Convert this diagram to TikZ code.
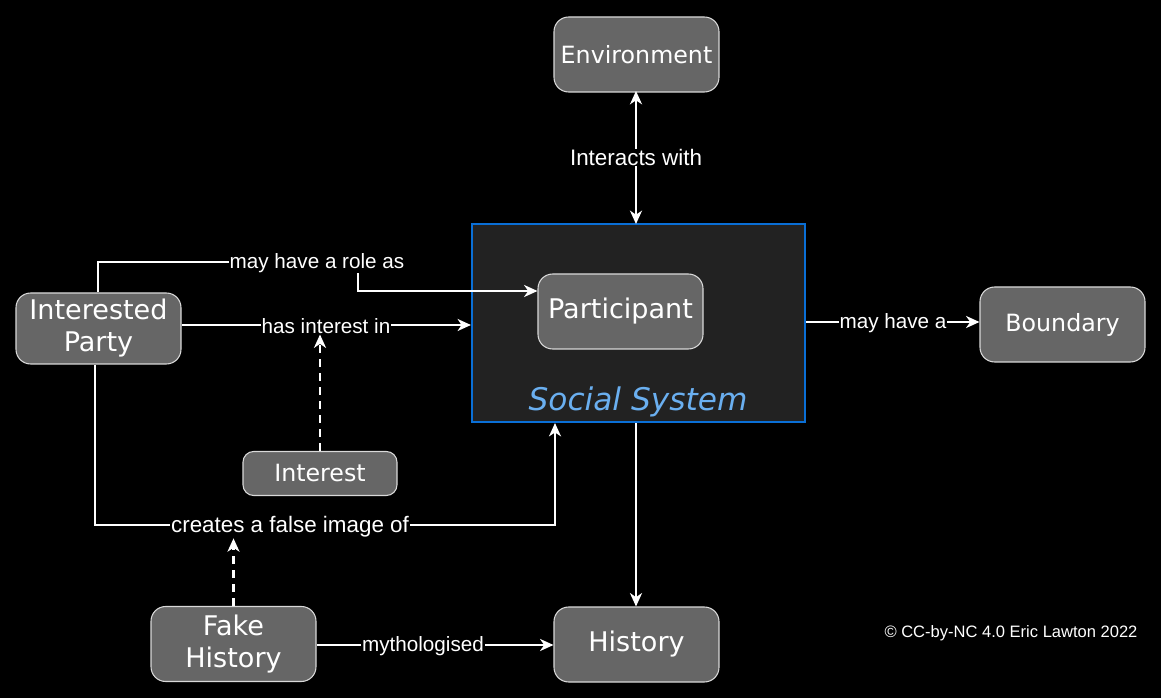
\documentclass[tikz,border=0pt]{standalone}
\usepackage{fontspec}
\setmainfont{Liberation Sans}
\newfontfamily\nodefont{DejaVu Sans}
\usetikzlibrary{arrows.meta}
\definecolor{nodefill}{HTML}{666666}
\definecolor{sysfill}{HTML}{222222}
\definecolor{sysblue}{HTML}{0A6FD6}
\definecolor{systext}{HTML}{6AAFF0}
\tikzset{
  box/.style={draw=white!85!black, line width=0.8pt, fill=nodefill, rounded corners=11pt,
    minimum width=123.75pt, minimum height=56.25pt, align=center, text=white,
    font=\nodefont\fontsize{17.8pt}{24pt}\selectfont, inner sep=0pt},
  bigbox/.style={box, font=\nodefont\fontsize{20.3pt}{24pt}\selectfont},
  lbl/.style={fill=black, text=white, inner sep=0.5pt, font=\fontsize{15.5pt}{18pt}\selectfont},
  biglbl/.style={lbl, font=\fontsize{16.8pt}{20pt}\selectfont},
  conn/.style={draw=white, line width=1.6pt, -{Stealth[length=10pt,width=9pt,inset=3pt]}},
  dconn/.style={conn, dash pattern=on 6pt off 4.5pt},
}
\begin{document}
\begin{tikzpicture}[x=0.75pt,y=-0.75pt]
\fill[black] (0,0) rectangle (1161,698);
\useasboundingbox (0,0) rectangle (1161,698);
% social system
\node[draw=sysblue, line width=1.6pt, fill=sysfill, minimum width=249.75pt, minimum height=148.5pt, inner sep=0pt] (sys) at (638.5,323) {};
\node[text=systext, font=\nodefont\itshape\fontsize{23.4pt}{28pt}\selectfont] (syslbl) at (638,402) {Social System};
% nodes
\node[box] (env) at (636.5,54.5) {Environment};
\node[bigbox] (part) at (620.5,311.5) {Participant};
\node[box] (bound) at (1062.5,324.5) {Boundary};
\node[bigbox, minimum height=53.25pt] (ip) at (98.5,328.5) {Interested\\Party};
\node[box, minimum width=115.5pt, minimum height=33pt, rounded corners=8pt] (interest) at (320,473.5) {Interest};
\node[bigbox] (fake) at (233.5,644) {Fake\\History};
\node[bigbox] (hist) at (636.5,644.5) {History};
\node[text=white, font=\fontsize{12.4pt}{15pt}\selectfont] (copy) at (1011,633) {© CC-by-NC 4.0 Eric Lawton 2022};
% connectors
\draw[conn, {Stealth[length=10pt,width=9pt,inset=3pt]}-{Stealth[length=10pt,width=9pt,inset=3pt]}] (636,91) -- node[biglbl] {Interacts with} (636,224);
\coordinate (r1) at (98,262);
\coordinate (r2) at (358,262);
\coordinate (r3) at (358,291);
\draw[conn] (ip.north -| r1) -- (r1) -- (r2) -- (r3) -- (part.west |- r3);
\node[lbl] (rolelbl) at (317,263) {may have a role as};
\coordinate (h1) at (181,325);
\draw[conn] (ip.east |- h1) -- (sys.west |- h1);
\node[lbl] (hasint) at (326,326) {has interest in};
\draw[dconn] (interest.north) -- (interest.north |- hasint.south);
\coordinate (f1) at (95,525);
\coordinate (f2) at (555,525);
\draw[conn] (ip.south -| f1) -- (f1) -- (f2) -- (sys.south -| f2);
\node[biglbl] (falselbl) at (290,527) {creates a false image of};
\draw[dconn] (fake.north) -- (fake.north |- falselbl.south);
\draw[conn] (fake.east |- 0,645) -- (hist.west |- 0,645);
\node[lbl] (mythlbl) at (423,646) {mythologised};
\draw[conn] (sys.south -| 636,0) -- (hist.north -| 636,0);
\draw[conn] (sys.east |- 0,322) -- (bound.west |- 0,322);
\node[lbl] (maylbl) at (893,323) {may have a};
\end{tikzpicture}
\end{document}
